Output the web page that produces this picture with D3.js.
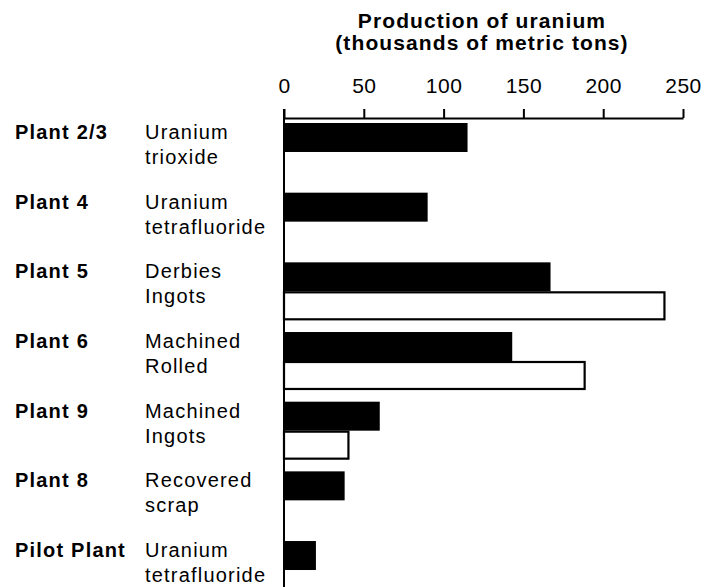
<!DOCTYPE html>
<html>
<head>
<meta charset="utf-8">
<script src="https://cdn.jsdelivr.net/npm/d3@7"></script>
<style>
  body { margin: 0; background: #fff; }
  #chart text { font-family: "Liberation Sans", Arial, Helvetica, sans-serif; fill: #000; }
</style>
</head>
<body>
<div id="chart"></div>
<script>
// values (thousands of metric tons)
var plants = ["Plant 2/3", "Plant 4", "Plant 5", "Plant 6", "Plant 9", "Plant 8", "Pilot Plant"];
var products = [
	["Uranium", "trioxide"],
	["Uranium", "tetrafluoride"],
	["Derbies", "Ingots"],
	["Machined", "Rolled"],
	["Machined", "Ingots"],
	["Recovered", "scrap"],
	["Uranium", "tetrafluoride"]
];
var solid_values = [115, 90, 167, 143, 60, 38, 20];
var open_values = [null, null, 239, 189, 41, null, null];
var tick_values = [0, 50, 100, 150, 200, 250];
var title_lines = ["Production of uranium", "(thousands of metric tons)"];

var width = 708, height = 587;

var svg = d3.select("#chart").append("svg")
	.attr("width", width)
	.attr("height", height);

var x = d3.scaleLinear().domain([0, 250]).range([284, 683]);

var y = d3.scaleBand()
	.domain(plants)
	.range([123, 599])
	.paddingInner(0.168)
	.paddingOuter(0);

// two slots per plant: solid bar on top, open bar below
var slot = d3.scaleBand()
	.domain(["solid", "open"])
	.range([0, y.bandwidth()]);

var rows = plants.map(function (p, i) {
	return {plant: p, lines: products[i], solid: solid_values[i], open: open_values[i]};
});

// title
svg.selectAll("text.title")
	.data(title_lines)
	.enter()
	.append("text")
	.attr("class", "title")
	.attr("x", 482)
	.attr("y", function (d, i) { return 28 + i * 22; })
	.attr("text-anchor", "middle")
	.style("font-size", "21px")
	.style("font-weight", "bold")
	.style("letter-spacing", "1.1px")
	.text(function (d) { return d; });

// top axis
var axis_g = svg.append("g")
	.attr("transform", "translate(0,118)")
	.call(d3.axisTop(x)
		.tickValues(tick_values)
		.tickSize(9)
		.tickSizeOuter(0)
		.tickPadding(16));

axis_g.select(".domain").attr("stroke", "#000").attr("stroke-width", 2);
axis_g.selectAll(".tick line").attr("stroke", "#000").attr("stroke-width", 2);
axis_g.selectAll(".tick text")
	.style("font-size", "21px")
	.style("letter-spacing", "0.5px")
	.attr("fill", "#000");

// bars
var groups = svg.selectAll("g.row")
	.data(rows)
	.enter()
	.append("g")
	.attr("class", "row")
	.attr("transform", function (d) { return "translate(0," + y(d.plant) + ")"; });

groups.filter(function (d) { return d.solid != null; })
	.append("rect")
	.attr("x", x(0))
	.attr("y", slot("solid"))
	.attr("width", function (d) { return x(d.solid) - x(0); })
	.attr("height", slot.bandwidth())
	.attr("fill", "#000");

groups.filter(function (d) { return d.open != null; })
	.append("rect")
	.attr("x", x(0))
	.attr("y", slot("open") + 1)
	.attr("width", function (d) { return x(d.open) - x(0) - 1; })
	.attr("height", slot.bandwidth() - 2)
	.attr("fill", "#fff")
	.attr("stroke", "#000")
	.attr("stroke-width", 2.2);

// vertical baseline
svg.append("line")
	.attr("x1", x(0)).attr("x2", x(0))
	.attr("y1", 109).attr("y2", height)
	.attr("stroke", "#000")
	.attr("stroke-width", 2);

// labels
groups.append("text")
	.attr("x", 15)
	.attr("y", 16)
	.style("font-size", "20px")
	.style("font-weight", "bold")
	.style("letter-spacing", "1.2px")
	.text(function (d) { return d.plant; });

groups.selectAll("text.product")
	.data(function (d) { return d.lines; })
	.enter()
	.append("text")
	.attr("class", "product")
	.attr("x", 145)
	.attr("y", function (d, i) { return 16 + i * 25; })
	.style("font-size", "20px")
	.style("letter-spacing", "1.2px")
	.text(function (d) { return d; });
</script>
</body>
</html>
